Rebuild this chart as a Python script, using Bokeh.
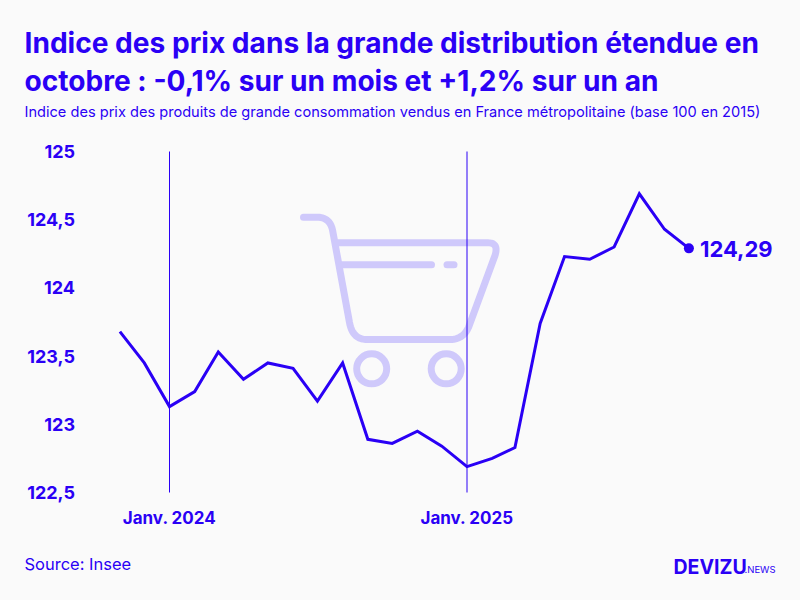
import numpy as np
import pandas as pd
from bokeh.plotting import figure
from bokeh.models import FixedTicker, Label, Range1d, ColumnDataSource
from bokeh.core.properties import value
from bokeh.embed import file_html
from bokeh.resources import INLINE

months = ["2023-11","2023-12","2024-01","2024-02","2024-03","2024-04","2024-05","2024-06","2024-07","2024-08","2024-09","2024-10",
          "2024-11","2024-12","2025-01","2025-02","2025-03","2025-04","2025-05","2025-06","2025-07","2025-08","2025-09","2025-10"]
index_values = [123.68,123.45,123.13,123.24,123.53,123.33,123.45,123.41,123.17,123.45,122.89,122.86,
                122.95,122.84,122.69,122.75,122.83,123.74,124.23,124.21,124.30,124.69,124.43,124.29]
y_ticks = [122.5,123,123.5,124,124.5,125]
y_tick_labels = ["122,5","123","123,5","124","124,5","125"]
x_tick_months = ["2024-01","2025-01"]
x_tick_labels = ["Janv. 2024","Janv. 2025"]
end_label = "124,29"
title_lines = ["Indice des prix dans la grande distribution étendue en",
               "octobre : -0,1% sur un mois et +1,2% sur un an"]
subtitle = "Indice des prix des produits de grande consommation vendus en France métropolitaine (base 100 en 2015)"
source_text = "Source: Insee"

INK = "#2a00f5"
CART = "#cfc9fb"
BG = "#fafafa"
FONT = value("Inter")

W, H = 800, 600
MS_DAY = 86400000.0
t0 = pd.Timestamp("2024-01-01")
t1 = pd.Timestamp("2025-01-01")
PX_DAY = (466.5 - 169.0) / ((t1 - t0).days)
x0_ms = t0.value / 1e6 - 169.0 / PX_DAY * MS_DAY
x1_ms = t0.value / 1e6 + (W - 169.0) / PX_DAY * MS_DAY
PX_UNIT = (492.0 - 151.0) / 2.5
y_top = 125.0 + 151.0 / PX_UNIT
y_bot = 125.0 - (H - 151.0) / PX_UNIT

p = figure(width=W, height=H, output_backend="svg", toolbar_location=None, x_axis_type="datetime",
           x_range=Range1d(x0_ms, x1_ms), y_range=Range1d(y_bot, y_top),
           min_border=0, background_fill_color=BG, border_fill_color=BG, outline_line_color=None)

# page px -> data helpers (axis placement and decorative cart only)
def dx(px):
    return x0_ms + (np.asarray(px, float) - 0.5) / W * (x1_ms - x0_ms)
def dy(py):
    return y_top - np.asarray(py, float) / H * (y_top - y_bot)
def corner(a, c, b, n=14):
    t = np.linspace(0, 1, n)[:, None]
    a, c, b = map(lambda v: np.array(v, float), (a, c, b))
    return (1 - t) ** 2 * a + 2 * t * (1 - t) * c + t ** 2 * b

cart = np.vstack([
    [[303.5, 216.7]],
    corner((317, 216.7), (330.5, 216.7), (332.8, 231)),
    corner((349.5, 322), (352.5, 339), (367, 339)),
    corner((450, 339), (463, 339), (468.5, 327)),
    corner((495, 255), (499, 242.3), (488, 242.3)),
    [[335.5, 242.3]],
])
cart_kw = dict(line_color=CART, line_width=7, line_cap="round", line_join="round")
p.line(dx(cart[:, 0]), dy(cart[:, 1]), **cart_kw)
p.line(dx([342, 431.5]), dy([264.3, 264.3]), **cart_kw)
p.line(dx([447, 454]), dy([264.3, 264.3]), **cart_kw)
p.scatter(dx([371.7, 446.2]), dy([368.3, 368.3]), marker="circle", size=30,
          fill_color=None, line_color=CART, line_width=7)

# axes, drawn inside the full-canvas frame
x_tick_ms = [pd.Timestamp(m + "-01").value / 1e6 for m in x_tick_months]
p.xaxis.ticker = FixedTicker(ticks=x_tick_ms)
p.xaxis.major_label_overrides = dict(zip(x_tick_ms, x_tick_labels))
p.yaxis.ticker = FixedTicker(ticks=y_ticks)
p.yaxis.major_label_overrides = dict(zip(y_ticks, y_tick_labels))
p.xaxis.fixed_location = float(dy(492))
p.yaxis.fixed_location = float(dx(80))
for ax in (p.xaxis[0], p.yaxis[0]):
    ax.axis_line_color = None
    ax.major_tick_line_color = None
    ax.minor_tick_line_color = None
    ax.major_tick_in = 0
    ax.major_tick_out = 0
    ax.major_label_text_color = INK
    ax.major_label_text_font = "Inter"
    ax.major_label_text_font_style = "bold"
p.xaxis.major_label_text_font_size = "17px"
p.yaxis.major_label_text_font_size = "18px"
p.xaxis.major_label_standoff = 15
p.yaxis.major_label_standoff = 5
p.grid.visible = False

# January guide lines, as 1px-wide filled bars
half_px = 0.5 / PX_DAY * MS_DAY
p.quad(left=[t - half_px for t in x_tick_ms], right=[t + half_px for t in x_tick_ms],
       bottom=[y_ticks[0]] * 2, top=[y_ticks[-1]] * 2, fill_color=INK, line_color=None)

# series
dates = pd.to_datetime([m + "-01" for m in months])
src = ColumnDataSource(dict(x=dates, y=index_values))
p.line("x", "y", source=src, line_color=INK, line_width=3, line_join="miter")
p.scatter(dates[-1:], index_values[-1:], marker="circle", size=10, fill_color=INK, line_color=INK, line_width=0)
p.text(dates[-1:], index_values[-1:], text=[end_label], x_offset=11, y_offset=1, text_color=INK,
       text_font=FONT, text_font_style="bold", text_font_size="22px", text_baseline="middle", text_align="left")

def label(txt, px, py, size, style="normal", align="left"):
    p.add_layout(Label(x=px, y=H - py, x_units="screen", y_units="screen", text=txt,
                       text_color=INK, text_font="Inter", text_font_style=style, text_font_size=size,
                       text_baseline="alphabetic", text_align=align))

label(title_lines[0], 24, 42, "28.1px", "bold")
label(title_lines[1], 24, 80, "28.1px", "bold")
label(subtitle, 24, 111, "14.6px")
label(source_text, 24, 563, "16.5px")
label("DEVIZU", 673, 566, "19.5px", "bold")
label(".NEWS", 744, 569, "9.5px")

html = file_html(p, INLINE).replace("<head>", "<head><style>html,body{background:#fafafa}</style>", 1)
open("out.html", "w").write(html)
